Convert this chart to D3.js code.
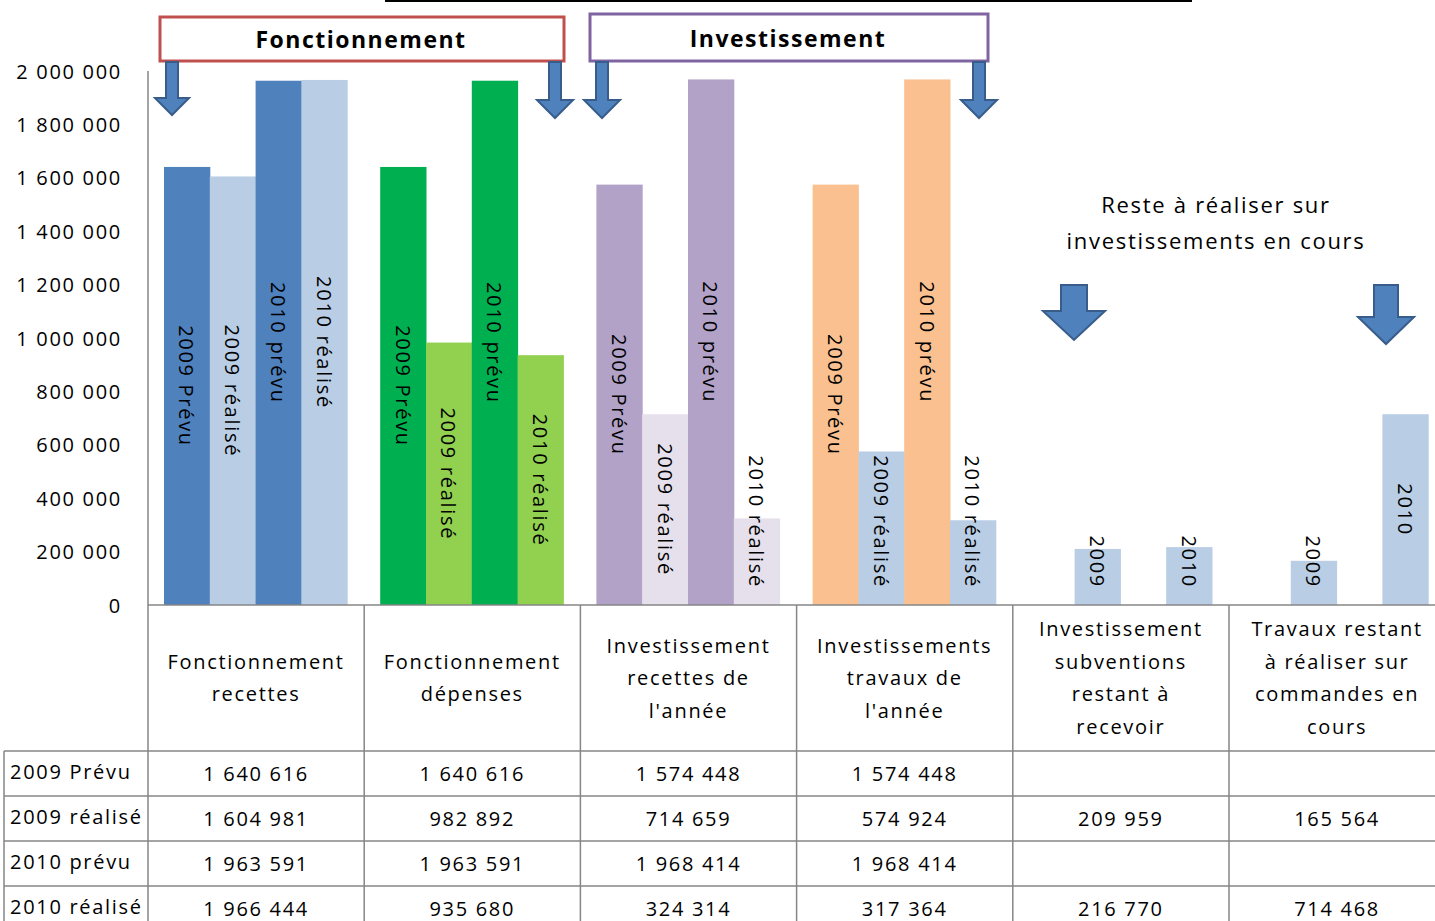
<!DOCTYPE html>
<html><head><meta charset="utf-8">
<script src="https://cdn.jsdelivr.net/npm/d3@7"></script>
<style>
html,body{margin:0;padding:0;background:#fff;}
svg{display:block;font-family:"Open Sans",sans-serif;}
text{letter-spacing:1.7px;fill:#000;}
</style></head>
<body>
<svg id="c" width="1435" height="921"></svg>
<script>
// ---- data ----
const categories = ["Fonctionnement recettes","Fonctionnement dépenses","Investissement recettes de l'année","Investissements travaux de l'année","Investissement subventions restant à recevoir","Travaux restant à réaliser sur commandes en cours"];
const categoryLines = [["Fonctionnement","recettes"],["Fonctionnement","dépenses"],["Investissement","recettes de","l'année"],["Investissements","travaux de","l'année"],["Investissement","subventions","restant à","recevoir"],["Travaux restant","à réaliser sur","commandes en","cours"]];
const seriesNames = ["2009 Prévu","2009 réalisé","2010 prévu","2010 réalisé"];
const v2009Prevu   = [1640616,1640616,1574448,1574448,null,null];
const v2009Realise = [1604981,982892,714659,574924,209959,165564];
const v2010Prevu   = [1963591,1963591,1968414,1968414,null,null];
const v2010Realise = [1966444,935680,324314,317364,216770,714468];
const shortLabels = ["2009","2009","2010","2010"]; // used for the last two categories
const yTicks = [0,200000,400000,600000,800000,1000000,1200000,1400000,1600000,1800000,2000000];
const prevuColors   = ["#4F81BD","#00B050","#B2A2C7","#FAC090","#B9CDE5","#B9CDE5"];
const realiseColors = ["#B9CDE5","#92D050","#E6E0EC","#B9CDE5","#B9CDE5","#B9CDE5"];

const seriesValues = [v2009Prevu, v2009Realise, v2010Prevu, v2010Realise];

// ---- layout ----
const svg = d3.select("#c");
const left = 148, catW = 216.2, base = 605, yTop = 71;
const x0 = d3.scaleBand().domain(categories).range([left, left + catW*categories.length]);
const x1 = d3.scaleBand().domain(seriesNames).range([16, catW-17]);
const y = d3.scaleLinear().domain([0, 2000000]).range([base, yTop]);
const loc = d3.formatLocale({decimal:",", thousands:"\u00a0", grouping:[3], currency:["","€"]});
const fmt = loc.format(",d");
const gray = "#868686";

// top cut title underline
svg.append("line").attr("x1",385).attr("x2",1192).attr("y1",1).attr("y2",1).attr("stroke","#000").attr("stroke-width",2);

// y axis
const yAxis = d3.axisLeft(y).tickValues(yTicks).tickSize(0).tickPadding(26).tickFormat(fmt);
const gy = svg.append("g").attr("transform",`translate(${left},0)`).call(yAxis);
gy.select(".domain").remove();
gy.selectAll("text").attr("font-size",20).attr("font-family","Open Sans").attr("fill","#000").style("letter-spacing","1.7px").attr("dy","0.35em");

// bars
const bars = [];
categories.forEach((c,ci)=>{
  seriesNames.forEach((s,si)=>{
    const v = seriesValues[si][ci];
    if (v == null) return;
    const color = (si % 2 === 0) ? prevuColors[ci] : realiseColors[ci];
    const label = ci >= 4 ? shortLabels[si] : s;
    bars.push({c, s, v, color, label});
  });
});
const gBars = svg.append("g");
gBars.selectAll("rect").data(bars).join("rect")
  .attr("x", d=>x0(d.c)+x1(d.s))
  .attr("width", x1.bandwidth()+0.5)
  .attr("y", d=>y(d.v))
  .attr("height", d=>base - y(d.v))
  .attr("fill", d=>d.color);

const labels = gBars.selectAll("text.lbl").data(bars).join("text").attr("class","lbl")
  .attr("font-size",20).attr("text-anchor","middle").attr("dominant-baseline","central")
  .text(d=>d.label);
labels.each(function(d){
  const len = this.getComputedTextLength();
  const cx = x0(d.c)+x1(d.s)+x1.bandwidth()/2;
  const cy = Math.min((y(d.v)+base)/2, 588 - len/2);
  d3.select(this).attr("transform",`translate(${cx},${cy}) rotate(90)`);
});

// axis lines & table grid
const right = left + catW*categories.length;
const g = svg.append("g").attr("stroke",gray).attr("stroke-width",1.5).attr("fill","none");
g.append("line").attr("x1",left).attr("x2",left).attr("y1",yTop).attr("y2",921);
g.append("line").attr("x1",left).attr("x2",right).attr("y1",base).attr("y2",base);
categories.forEach((c,i)=>{ if(i>0) g.append("line").attr("x1",x0(c)).attr("x2",x0(c)).attr("y1",base).attr("y2",921); });
const rowTops = [751,796,841,886];
rowTops.forEach(rt=>g.append("line").attr("x1",4).attr("x2",right).attr("y1",rt).attr("y2",rt));
g.append("line").attr("x1",4).attr("x2",4).attr("y1",751).attr("y2",921);

// category headers
const lh = 32.5, hc = 678;
categoryLines.forEach((lines,i)=>{
  const cx = x0(categories[i]) + catW/2;
  const t = svg.append("text").attr("text-anchor","middle").attr("font-size",20);
  lines.forEach((ln,k)=>{
    t.append("tspan").attr("x",cx).attr("y", hc + (k - (lines.length-1)/2)*lh).attr("dy","0.35em").text(ln);
  });
});

// table rows
seriesNames.forEach((s,si)=>{
  const cy = rowTops[si] + 22.5;
  svg.append("text").attr("x",10).attr("y",cy-2).attr("dy","0.35em").attr("font-size",20).text(s);
  categories.forEach((c,ci)=>{
    const v = seriesValues[si][ci];
    if (v == null) return;
    svg.append("text").attr("x",x0(c)+catW/2).attr("y",cy).attr("dy","0.35em")
      .attr("text-anchor","middle").attr("font-size",20).text(fmt(v));
  });
});

// annotation boxes
svg.append("rect").attr("x",160).attr("y",17).attr("width",404).attr("height",44).attr("fill","#fff").attr("stroke","#C0504D").attr("stroke-width",3);
svg.append("text").attr("x",361).attr("y",40).attr("dy","0.35em").attr("text-anchor","middle").attr("font-size",23).attr("font-weight","bold").style("letter-spacing","1.5px").text("Fonctionnement");
svg.append("rect").attr("x",590).attr("y",14).attr("width",398).attr("height",47).attr("fill","#fff").attr("stroke","#8064A2").attr("stroke-width",3);
svg.append("text").attr("x",788).attr("y",39).attr("dy","0.35em").attr("text-anchor","middle").attr("font-size",23).attr("font-weight","bold").style("letter-spacing","1.5px").text("Investissement");

// arrows
function arrow(cx, y0, yHead, yTip, shaftW, headW){
  const p = d3.path();
  p.moveTo(cx-shaftW/2,y0); p.lineTo(cx+shaftW/2,y0); p.lineTo(cx+shaftW/2,yHead);
  p.lineTo(cx+headW/2,yHead); p.lineTo(cx,yTip); p.lineTo(cx-headW/2,yHead);
  p.lineTo(cx-shaftW/2,yHead); p.closePath();
  svg.append("path").attr("d",p.toString()).attr("fill","#4F81BD").attr("stroke","#385D8A").attr("stroke-width",2).attr("stroke-linejoin","miter");
}
arrow(172,62,98,115,12,34);
arrow(555,62,100,118,12,36);
arrow(602,62,100,118,12,36);
arrow(979,62,100,118,12,36);
arrow(1074,285,311,340,26,62);
arrow(1386,285,317,344,24,56);

// annotation text
svg.append("text").attr("x",1216).attr("y",205).attr("dy","0.35em").attr("text-anchor","middle").attr("font-size",22).text("Reste à réaliser sur");
svg.append("text").attr("x",1216).attr("y",241).attr("dy","0.35em").attr("text-anchor","middle").attr("font-size",22).text("investissements en cours");
</script>
</body></html>
